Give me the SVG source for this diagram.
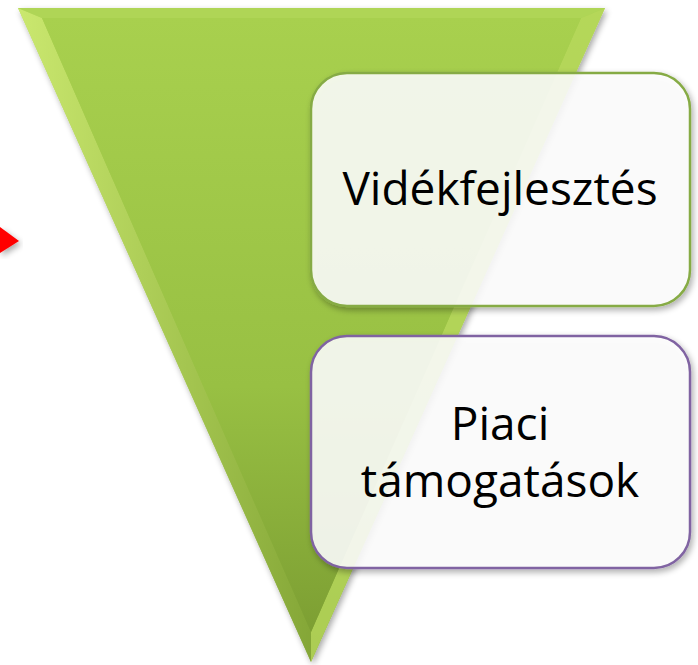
<svg xmlns="http://www.w3.org/2000/svg" width="698" height="665" viewBox="0 0 698 665">
<defs>
<linearGradient id="tri" x1="0" y1="0" x2="0" y2="1">
<stop offset="0" stop-color="#a8d04e"/>
<stop offset="0.6" stop-color="#98c043"/>
<stop offset="1" stop-color="#7d9f33"/>
</linearGradient>
<linearGradient id="bevL" x1="0" y1="0" x2="1" y2="0">
<stop offset="0" stop-color="#d6f07a"/>
<stop offset="1" stop-color="#86a838"/>
</linearGradient>
<filter id="sh" x="-20%" y="-20%" width="140%" height="140%">
<feGaussianBlur in="SourceAlpha" stdDeviation="3"/>
<feOffset dx="2" dy="3"/>
<feComponentTransfer><feFuncA type="linear" slope="0.35"/></feComponentTransfer>
<feMerge><feMergeNode/><feMergeNode in="SourceGraphic"/></feMerge>
</filter>
</defs>
<style>
.box{fill:#ffffff;fill-opacity:0.86;stroke-width:2.5}
.lbl{font-family:"Open Sans","Liberation Sans",sans-serif;font-size:46px;fill:#000;text-anchor:middle}
</style>
<g id="arrow">
<polygon points="0,227 19,241 0,253" fill="#ff0000" filter="url(#sh)"/>
</g>
<g id="funnel">
<polygon points="18,8 605,8 311,662" fill="url(#tri)" filter="url(#sh)"/>
<polygon points="18,8 42,18 311,632 311,662" fill="url(#bevL)" opacity="0.75"/>
<polygon points="605,8 581,18 311,632 311,662" fill="#b8d85c" opacity="0.8"/>
<polygon points="18,8 605,8 581,18 42,18" fill="#b4d95e" opacity="0.6"/>
<polygon points="42,18 581,18 311,632" fill="url(#tri)"/>
</g>
<g id="node1">
<rect class="box" x="311" y="73" width="379" height="233" rx="36" stroke="#86ab44" filter="url(#sh)"/>
<text class="lbl" x="500" y="205">Vidékfejlesztés</text>
</g>
<g id="node2">
<rect class="box" x="311" y="336" width="379" height="232" rx="36" stroke="#8064a2" filter="url(#sh)"/>
<text class="lbl" x="500" y="440">Piaci</text>
<text class="lbl" x="500" y="497">támogatások</text>
</g>
</svg>
